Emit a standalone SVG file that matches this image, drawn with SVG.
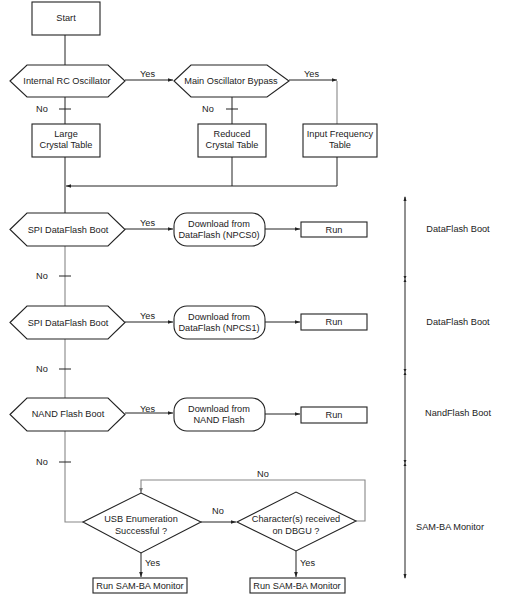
<svg xmlns="http://www.w3.org/2000/svg" width="506" height="598" viewBox="0 0 506 598">
<defs>
<style>
text{font-family:"Liberation Sans",Arial,sans-serif;font-size:9.2px;fill:#222;text-anchor:middle}
.s{fill:#fff;stroke:#222;stroke-width:1.1}
.l{fill:none;stroke:#222;stroke-width:1}
.g{fill:none;stroke:#888;stroke-width:1.1}
.lb{text-anchor:start}
</style>
<marker id="a" viewBox="0 0 6 6" refX="6" refY="3" markerWidth="5" markerHeight="5" orient="auto" markerUnits="userSpaceOnUse"><path d="M0,0.8L6,3L0,5.2z" fill="#222"/></marker>
<marker id="ag" viewBox="0 0 6 6" refX="6" refY="3" markerWidth="5" markerHeight="5" orient="auto" markerUnits="userSpaceOnUse"><path d="M0,0.8L6,3L0,5.2z" fill="#777"/></marker>
</defs>
<g id="connectors">
<path class="l" d="M65,35V65M65,97V124M65,157V213"/>
<path class="g" d="M65,246V306M65,339V398M65,431V522H83"/>
<path class="l" d="M59,109H71M59,276H71M59,369H71M59,462H71M226,109H238"/>
<path class="l" d="M125,80H173" marker-end="url(#a)"/>
<path class="l" d="M289,80H337" marker-end="url(#a)"/>
<path class="g" d="M337,81V124"/>
<path class="l" d="M232,97V124M232,157V186M337,157V186H66" marker-end="url(#a)"/>
<path class="l" d="M125,229H173" marker-end="url(#a)"/>
<path class="l" d="M265,229H300" marker-end="url(#a)"/>
<path class="l" d="M125,322H173" marker-end="url(#a)"/>
<path class="l" d="M265,322H300" marker-end="url(#a)"/>
<path class="l" d="M125,413H173" marker-end="url(#a)"/>
<path class="l" d="M265,414H300" marker-end="url(#a)"/>
<path class="l" d="M201,522H236" marker-end="url(#a)"/>
<path class="g" d="M356,521H365V480H141V493" marker-end="url(#ag)"/>
<path class="l" d="M141,553V577" marker-end="url(#a)"/>
<path class="l" d="M296,551V577" marker-end="url(#a)"/>
<text class="lb" x="140" y="77">Yes</text>
<text class="lb" x="304" y="77">Yes</text>
<text class="lb" x="36" y="112">No</text>
<text class="lb" x="202" y="112">No</text>
<text class="lb" x="140" y="226">Yes</text>
<text class="lb" x="36" y="279">No</text>
<text class="lb" x="140" y="319">Yes</text>
<text class="lb" x="36" y="372">No</text>
<text class="lb" x="140" y="412">Yes</text>
<text class="lb" x="36" y="465">No</text>
<text class="lb" x="212" y="514">No</text>
<text class="lb" x="257" y="477">No</text>
<text class="lb" x="145" y="566">Yes</text>
<text class="lb" x="300" y="566">Yes</text>
</g>
<g id="start"><rect class="s" x="32" y="2" width="68" height="33"/><text x="66" y="21">Start</text></g>
<g id="internal-rc"><path class="s" d="M10,81L27,65H108L125,81L108,97H27Z"/><text x="67" y="84">Internal RC Oscillator</text></g>
<g id="main-osc"><path class="s" d="M174,81L191,65H267L289,81L267,97H191Z"/><text x="231" y="84">Main Oscillator Bypass</text></g>
<g id="large"><rect class="s" x="32" y="124" width="68" height="33"/><text x="66" y="137">Large</text><text x="66" y="148">Crystal Table</text></g>
<g id="reduced"><rect class="s" x="198" y="124" width="68" height="33"/><text x="232" y="137">Reduced</text><text x="232" y="148">Crystal Table</text></g>
<g id="input-freq"><rect class="s" x="303" y="124" width="74" height="33"/><text x="340" y="137">Input Frequency</text><text x="340" y="148">Table</text></g>
<g id="spi0"><path class="s" d="M10,229.5L27,213H108L125,229.5L108,246H27Z"/><text x="68" y="233">SPI DataFlash Boot</text></g>
<g id="dl0"><rect class="s" x="174" y="213" width="91" height="33" rx="13"/><text x="219" y="227">Download from</text><text x="219" y="238">DataFlash (NPCS0)</text></g>
<g id="run0"><rect class="s" x="301" y="222" width="66" height="15"/><text x="334" y="233">Run</text></g>
<g id="spi1"><path class="s" d="M10,322.5L27,306H108L125,322.5L108,339H27Z"/><text x="68" y="326">SPI DataFlash Boot</text></g>
<g id="dl1"><rect class="s" x="174" y="306" width="91" height="33" rx="13"/><text x="219" y="320">Download from</text><text x="219" y="331">DataFlash (NPCS1)</text></g>
<g id="run1"><rect class="s" x="301" y="314" width="66" height="16"/><text x="334" y="325">Run</text></g>
<g id="nand"><path class="s" d="M10,414.5L27,398H108L125,414.5L108,431H27Z"/><text x="68" y="417">NAND Flash Boot</text></g>
<g id="dlnand"><rect class="s" x="174" y="398" width="91" height="33" rx="13"/><text x="219" y="412">Download from</text><text x="219" y="423">NAND Flash</text></g>
<g id="run2"><rect class="s" x="301" y="407" width="66" height="16"/><text x="334" y="418">Run</text></g>
<g id="usb"><path class="s" d="M83,522L141,493L201,522L141,553Z"/><text x="141" y="522">USB Enumeration</text><text x="141" y="534">Successful ?</text></g>
<g id="chars"><path class="s" d="M237,522L296,492L356,521L296,551Z"/><text x="296" y="522">Character(s) received</text><text x="296" y="534">on DBGU ?</text></g>
<g id="run-samba1"><rect class="s" x="93" y="578" width="94" height="15"/><text x="140" y="589">Run SAM-BA Monitor</text></g>
<g id="run-samba2"><rect class="s" x="250" y="578" width="95" height="15"/><text x="297" y="589">Run SAM-BA Monitor</text></g>
<g id="ranges">
<path class="l" d="M405,197V578"/>
<path d="M403.5,201L405,196L406.5,201ZM403.5,574L405,579L406.5,574ZM403.5,276L405,279L406.5,276ZM403.5,282L405,279L406.5,282ZM403.5,369L405,372L406.5,369ZM403.5,375L405,372L406.5,375ZM403.5,460L405,463L406.5,460ZM403.5,466L405,463L406.5,466Z" fill="#222"/>
<text x="458" y="232">DataFlash Boot</text>
<text x="458" y="325">DataFlash Boot</text>
<text x="458" y="416">NandFlash Boot</text>
<text x="450" y="530">SAM-BA Monitor</text>
</g>
</svg>
